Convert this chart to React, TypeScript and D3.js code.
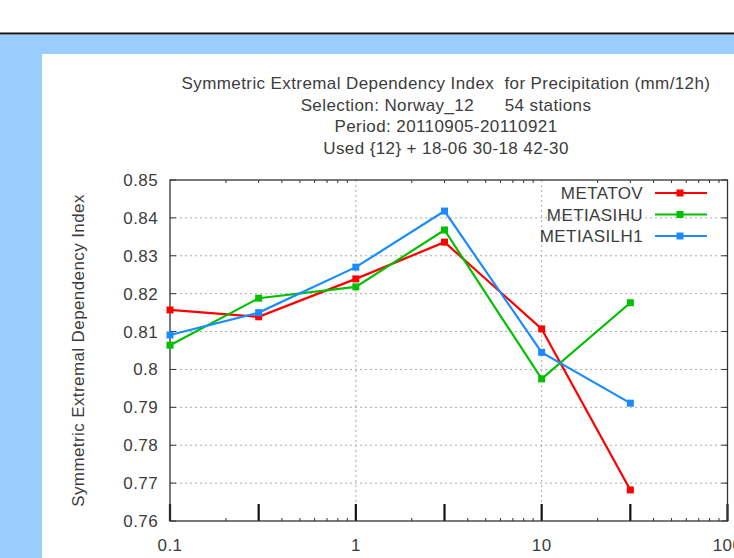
import React from "react";
import * as d3 from "d3";

const xValues = [0.1, 0.3, 1, 3, 10, 30];
const seriesNames = ["METATOV", "METIASIHU", "METIASILH1"];
const seriesColors = ["#ff0000", "#00c000", "#1a8cff"];
const metatov = [0.8157, 0.8139, 0.8239, 0.8336, 0.8107, 0.7682];
const metiasihu = [0.8064, 0.8188, 0.8218, 0.8368, 0.7975, 0.8176];
const metiasilh1 = [0.8091, 0.815, 0.827, 0.8418, 0.8045, 0.7911];
const seriesValues = [metatov, metiasihu, metiasilh1];
const yTicks = [0.76, 0.77, 0.78, 0.79, 0.8, 0.81, 0.82, 0.83, 0.84, 0.85];
const xLabelTicks = [0.1, 1, 10, 100];
const xMajorTicks = [0.1, 0.3, 1, 3, 10, 30, 100];
const titleLines = [
  "Symmetric Extremal Dependency Index  for Precipitation (mm/12h)",
  "Selection: Norway_12      54 stations",
  "Period: 20110905-20110921",
  "Used {12} + 18-06 30-18 42-30",
];
const yLabel = "Symmetric Extremal Dependency Index";

export default function App() {
  const W = 734, H = 558;
  const left = 170, right = 727.5, top = 180, bottom = 521;
  const x = d3.scaleLog().domain([0.1, 100]).range([left, right]);
  const y = d3.scaleLinear().domain([0.76, 0.85]).range([bottom, top]);
  const minor: number[] = [];
  [0.1, 1, 10].forEach((d) => {
    for (let k = 2; k <= 9; k++) minor.push(d * k);
  });
  const line = d3
    .line<number>()
    .x((_, i) => x(xValues[i]))
    .y((v) => y(v));
  const font = "'Liberation Sans', Arial, sans-serif";
  const textColor = "#3c3c3c";
  const fs = 17;
  return (
    <div style={{ position: "fixed", left: 0, top: 0 }}>
      <svg
        width={W}
        height={H}
        style={{ display: "block", letterSpacing: "0.4px" }}
        fontFamily={font}
      >
        <rect x={0} y={0} width={W} height={H} fill="#ffffff" />
        <rect x={0} y={35} width={W} height={H - 35} fill="#99ccff" />
        <rect x={0} y={32.5} width={W} height={2} fill="#111" />
        <rect x={42} y={54} width={W - 42} height={H - 54} fill="#ffffff" />
        {titleLines.map((t, i) => (
          <text
            key={i}
            x={446}
            y={89 + i * 21.5}
            textAnchor="middle"
            fontSize={fs}
            fill={textColor}
            style={{ whiteSpace: "pre" }}
          >
            {t}
          </text>
        ))}
        {/* grid */}
        {yTicks.slice(1, -1).map((t) => (
          <line
            key={t}
            x1={left}
            x2={right}
            y1={y(t)}
            y2={y(t)}
            stroke="#aaa"
            strokeWidth={1}
            strokeDasharray="2,3"
          />
        ))}
        {[1, 10].map((t) => (
          <line
            key={t}
            x1={x(t)}
            x2={x(t)}
            y1={top}
            y2={bottom}
            stroke="#aaa"
            strokeWidth={1}
            strokeDasharray="2,3"
          />
        ))}
        {/* y ticks */}
        {yTicks.map((t) => (
          <g key={t}>
            <line x1={left} x2={left + 6} y1={y(t)} y2={y(t)} stroke="#333" />
            <line x1={right} x2={right - 6} y1={y(t)} y2={y(t)} stroke="#333" />
            <text
              x={left - 12}
              y={y(t) + 6}
              textAnchor="end"
              fontSize={fs}
              fill={textColor}
            >
              {String(+t.toFixed(2))}
            </text>
          </g>
        ))}
        {/* x minor ticks */}
        {minor.map((t, i) => (
          <g key={i}>
            <line x1={x(t)} x2={x(t)} y1={bottom} y2={bottom - 3} stroke="#333" />
            <line x1={x(t)} x2={x(t)} y1={top} y2={top + 3} stroke="#333" />
          </g>
        ))}
        {xMajorTicks.map((t) => (
          <line
            key={t}
            x1={x(t)}
            x2={x(t)}
            y1={bottom}
            y2={bottom - 17}
            stroke="#111"
            strokeWidth={2.2}
          />
        ))}
        {xLabelTicks.map((t) => (
          <text
            key={t}
            x={x(t)}
            y={551}
            textAnchor="middle"
            fontSize={fs}
            fill={textColor}
          >
            {String(t)}
          </text>
        ))}
        {/* frame */}
        <rect
          x={left}
          y={top}
          width={right - left}
          height={bottom - top}
          fill="none"
          stroke="#333"
          strokeWidth={1.3}
        />
        <text
          transform={`translate(84,${(top + bottom) / 2}) rotate(-90)`}
          textAnchor="middle"
          fontSize={fs}
          fill={textColor}
        >
          {yLabel}
        </text>
        {/* series */}
        {seriesValues.map((vals, si) => (
          <g key={si}>
            <path
              d={line(vals) || ""}
              fill="none"
              stroke={seriesColors[si]}
              strokeWidth={2.2}
            />
            {vals.map((v, i) => (
              <rect
                key={i}
                x={x(xValues[i]) - 3.5}
                y={y(v) - 3.5}
                width={7}
                height={7}
                fill={seriesColors[si]}
              />
            ))}
          </g>
        ))}
        {/* legend */}
        {seriesNames.map((n, i) => {
          const ly = 193 + i * 21.5;
          return (
            <g key={n}>
              <text
                x={643}
                y={ly + 6}
                textAnchor="end"
                fontSize={fs}
                fill={textColor}
              >
                {n}
              </text>
              <line
                x1={655}
                x2={707}
                y1={ly}
                y2={ly}
                stroke={seriesColors[i]}
                strokeWidth={2.2}
              />
              <rect x={676.5} y={ly - 3.5} width={7} height={7} fill={seriesColors[i]} />
            </g>
          );
        })}
      </svg>
    </div>
  );
}
